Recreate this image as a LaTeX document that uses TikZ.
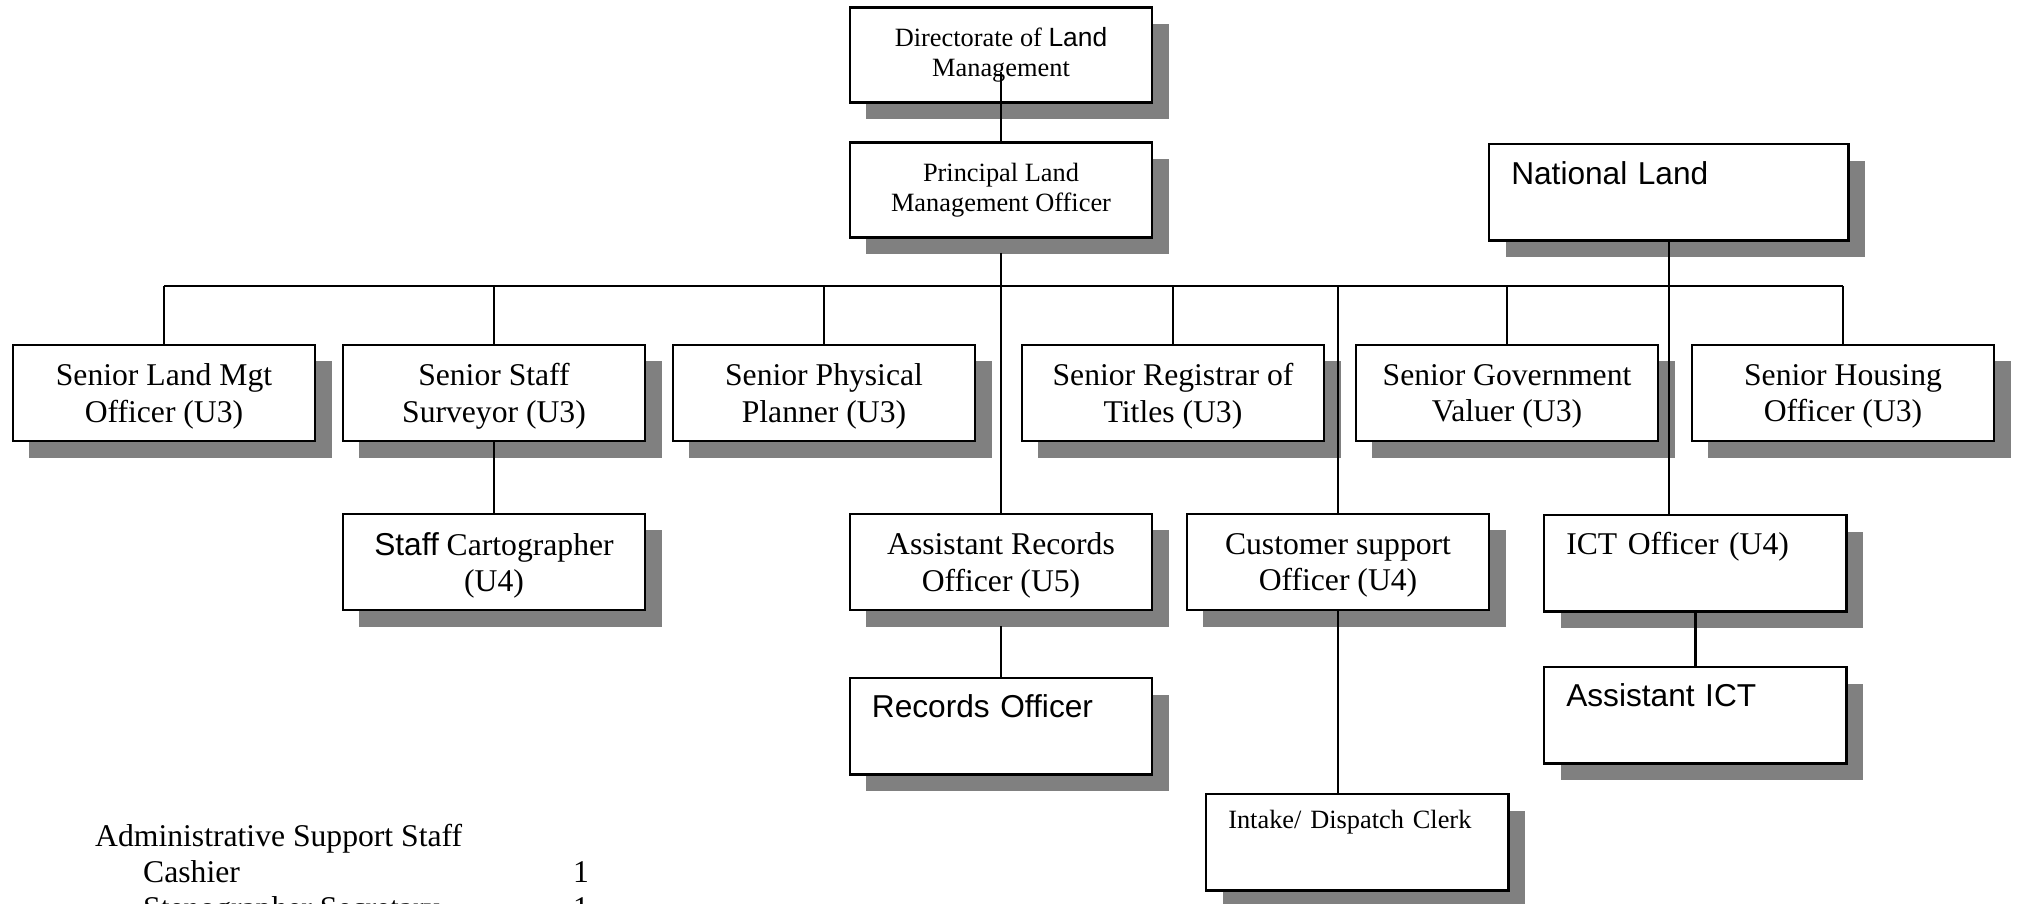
\documentclass[tikz,border=0pt]{standalone}
\usepackage{fontspec}
\setmainfont{Liberation Serif}
\newfontfamily\arialfont{Liberation Sans}
\usetikzlibrary{shadows}
\definecolor{shadegray}{HTML}{808080}

\begin{document}
\begin{tikzpicture}[x=0.01cm,y=-0.01cm,line width=.7pt,
  box/.style={draw,fill=white,inner sep=0pt,align=center,minimum width=3.02cm,minimum height=.96cm,
    drop shadow={shadow xshift=.165cm,shadow yshift=-.165cm,fill=shadegray,opacity=1}},
  cbox/.style={box,text depth=0pt,font=\fontsize{9}{10.4}\selectfont},
  tbox/.style={box,minimum height=.95cm,font=\fontsize{7.5}{8.6}\selectfont},
  lbox/.style={box,anchor=north west,align=left,inner xsep=.22cm,text width=2.58cm,
    text height=.39cm,text depth=.56cm,font=\fontsize{9}{10.4}\selectfont},
  sans/.style={font=\fontsize{9}{10.4}\selectfont\arialfont}]
\useasboundingbox (0,0) rectangle (2019,904);
\clip (0,0) rectangle (2019,904);
\node[tbox] (dlm) at (1001,55) {Directorate of {\arialfont Land}\\Management};
\node[tbox] (plmo) at (1001,190) {Principal Land\\Management Officer};
\node[lbox,sans,text width=3.15cm,text height=.40cm] (nl) at (1488,143) {National Land};
\node[cbox] (slmo) at (164,393) {Senior Land Mgt\\Officer (U3)};
\node[cbox] (sss) at (494,393) {Senior Staff\\Surveyor (U3)};
\node[cbox] (spp) at (824,393) {Senior Physical\\Planner (U3)};
\node[cbox] (srt) at (1173,393) {Senior Registrar of\\Titles (U3)};
\node[cbox] (sgv) at (1507,393) {Senior Government\\Valuer (U3)};
\node[cbox] (sho) at (1843,393) {Senior Housing\\Officer (U3)};
\node[cbox] (sc) at (494,562) {{\arialfont Staff} Cartographer\\(U4)};
\node[cbox] (aro) at (1001,562) {Assistant Records\\Officer (U5)};
\node[cbox] (cso) at (1338,562) {Customer support\\Officer (U4)};
\node[lbox] (ict) at (1543,514) {ICT Officer (U4)};
\node[lbox,sans,anchor=north] (ro) at (1001,677) {Records Officer};
\node[lbox,sans] (aict) at (1543,666) {Assistant ICT};
\node[lbox,font=\fontsize{7.5}{8.6}\selectfont,text height=.34cm,text depth=.62cm] (idc) at (1205,793) {Intake/ Dispatch Clerk};
\coordinate (bus) at (0,286);
\draw ([yshift=-.17cm]dlm.center) -- (plmo.north);
\draw ([yshift=-.14cm]plmo.south) -- (aro.north);
\draw (slmo.north |- bus) -- (sho.north |- bus);
\foreach \n in {slmo,sss,spp,srt,sgv,sho}
  \draw (\n.north |- bus) -- (\n.north);
\draw (cso.north |- bus) -- (cso.north);
\draw (nl.south) -- (nl.south |- ict.north);
\draw (sss.south) -- (sc.north);
\draw ([yshift=-.15cm]aro.south) -- (ro.north);
\draw (cso.south) -- (cso.south |- idc.north);
\draw (ict.south) -- (aict.north);
\begin{scope}[font=\fontsize{9}{10.4}\selectfont,every node/.style={anchor=base west,inner sep=0pt}]
\node (adm) at (94,846) {Administrative Support Staff};
\node (cash) at (142,882) {Cashier};
\node (cashn) at (572,882) {1};
\node (steno) at (142,918) {Stenographer Secretary};
\node (stenon) at (572,918) {1};
\end{scope}
\end{tikzpicture}
\end{document}
